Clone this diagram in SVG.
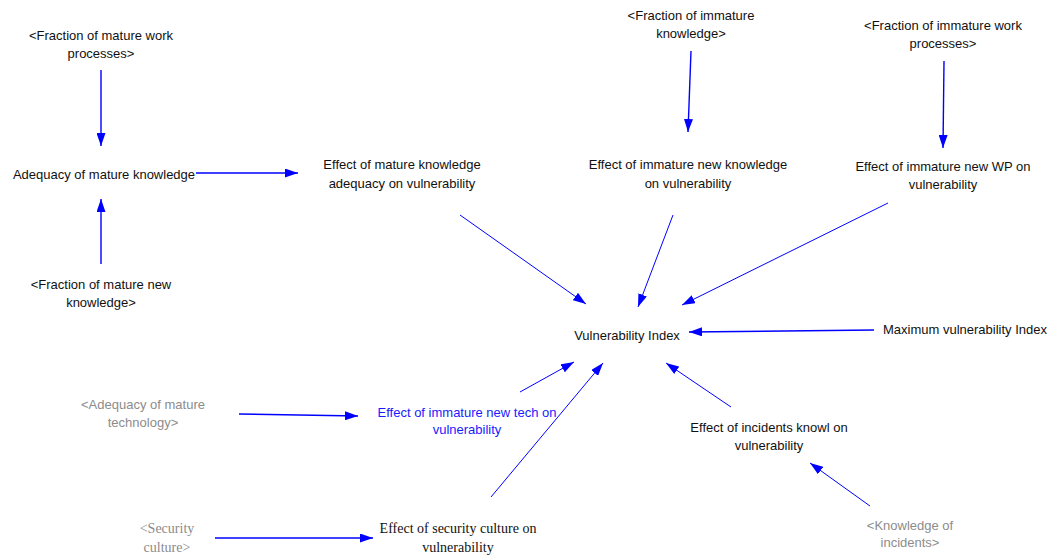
<svg xmlns="http://www.w3.org/2000/svg" width="1059" height="556" viewBox="0 0 1059 556">
  <defs>
    <marker id="arrow" viewBox="0 0 13 9" refX="13" refY="4.5" markerWidth="13" markerHeight="9" markerUnits="userSpaceOnUse" orient="auto">
      <path d="M0,0 L13,4.5 L0,9 Z" fill="#0000ff"/>
    </marker>
    <style>
      .lbl { font-family: "Liberation Sans", Arial, sans-serif; font-size: 13px; fill: #111; text-anchor: middle; }
      .shadow { fill: #8c8c8c; }
      .blue { fill: #1a1aff; }
      .serif { font-family: "Liberation Serif", "Times New Roman", serif; font-size: 14px; }
      .link { stroke: #0000ff; stroke-width: 1; fill: none; marker-end: url(#arrow); }
      .thick { stroke-width: 1.4; }
    </style>
  </defs>
  <rect width="1059" height="556" fill="#ffffff"/>

  <g id="connectors">
    <line class="link thick" x1="101" y1="70" x2="101" y2="146"/>
    <line class="link thick" x1="101" y1="264" x2="101" y2="199"/>
    <line class="link thick" x1="196" y1="173" x2="298" y2="173"/>
    <line class="link" x1="460" y1="215" x2="586" y2="304"/>
    <line class="link thick" x1="691" y1="51" x2="688" y2="132"/>
    <line class="link" x1="673" y1="215" x2="638" y2="307"/>
    <line class="link thick" x1="944" y1="61" x2="943" y2="148"/>
    <line class="link" x1="888" y1="203" x2="682" y2="305"/>
    <line class="link thick" x1="874" y1="330" x2="689" y2="332"/>
    <line class="link" x1="731" y1="407" x2="666" y2="363"/>
    <line class="link" x1="870" y1="506" x2="810" y2="463"/>
    <line class="link" x1="520" y1="392" x2="574" y2="362"/>
    <line class="link" x1="491" y1="497" x2="603" y2="363"/>
    <line class="link thick" x1="239" y1="414" x2="358" y2="416"/>
    <line class="link thick" x1="215" y1="538" x2="373" y2="538"/>
  </g>

  <g id="frac-mature-wp">
    <text class="lbl" x="101" y="40">&lt;Fraction of mature work</text>
    <text class="lbl" x="101" y="58">processes&gt;</text>
  </g>
  <g id="adequacy-mature-knowledge">
    <text class="lbl" x="104" y="179">Adequacy of mature knowledge</text>
  </g>
  <g id="frac-mature-new-knowledge">
    <text class="lbl" x="101" y="289">&lt;Fraction of mature new</text>
    <text class="lbl" x="101" y="307">knowledge&gt;</text>
  </g>
  <g id="effect-mature-knowledge">
    <text class="lbl" x="402" y="169">Effect of mature knowledge</text>
    <text class="lbl" x="402" y="188">adequacy on vulnerability</text>
  </g>
  <g id="frac-immature-knowledge">
    <text class="lbl" x="691" y="20">&lt;Fraction of immature</text>
    <text class="lbl" x="691" y="38">knowledge&gt;</text>
  </g>
  <g id="effect-immature-knowledge">
    <text class="lbl" x="688" y="169">Effect of immature new knowledge</text>
    <text class="lbl" x="688" y="188">on vulnerability</text>
  </g>
  <g id="frac-immature-wp">
    <text class="lbl" x="943" y="30">&lt;Fraction of immature work</text>
    <text class="lbl" x="943" y="48">processes&gt;</text>
  </g>
  <g id="effect-immature-wp">
    <text class="lbl" x="943" y="171">Effect of immature new WP on</text>
    <text class="lbl" x="943" y="189">vulnerability</text>
  </g>
  <g id="vulnerability-index">
    <text class="lbl" x="627" y="340">Vulnerability Index</text>
  </g>
  <g id="max-vulnerability-index">
    <text class="lbl" x="965" y="334">Maximum vulnerability Index</text>
  </g>
  <g id="effect-incidents">
    <text class="lbl" x="769" y="432">Effect of incidents knowl on</text>
    <text class="lbl" x="769" y="450">vulnerability</text>
  </g>
  <g id="knowledge-incidents">
    <text class="lbl shadow" x="910" y="530">&lt;Knowledge of</text>
    <text class="lbl shadow" x="910" y="547">incidents&gt;</text>
  </g>
  <g id="effect-immature-tech">
    <text class="lbl blue" x="467" y="417">Effect of immature new tech on</text>
    <text class="lbl blue" x="467" y="434">vulnerability</text>
  </g>
  <g id="adequacy-mature-tech">
    <text class="lbl shadow" x="143" y="409">&lt;Adequacy of mature</text>
    <text class="lbl shadow" x="143" y="427">technology&gt;</text>
  </g>
  <g id="security-culture">
    <text class="lbl serif shadow" x="167" y="533">&lt;Security</text>
    <text class="lbl serif shadow" x="167" y="552">culture&gt;</text>
  </g>
  <g id="effect-security-culture">
    <text class="lbl serif" x="458" y="533">Effect of security culture on</text>
    <text class="lbl serif" x="458" y="552">vulnerability</text>
  </g>
</svg>
